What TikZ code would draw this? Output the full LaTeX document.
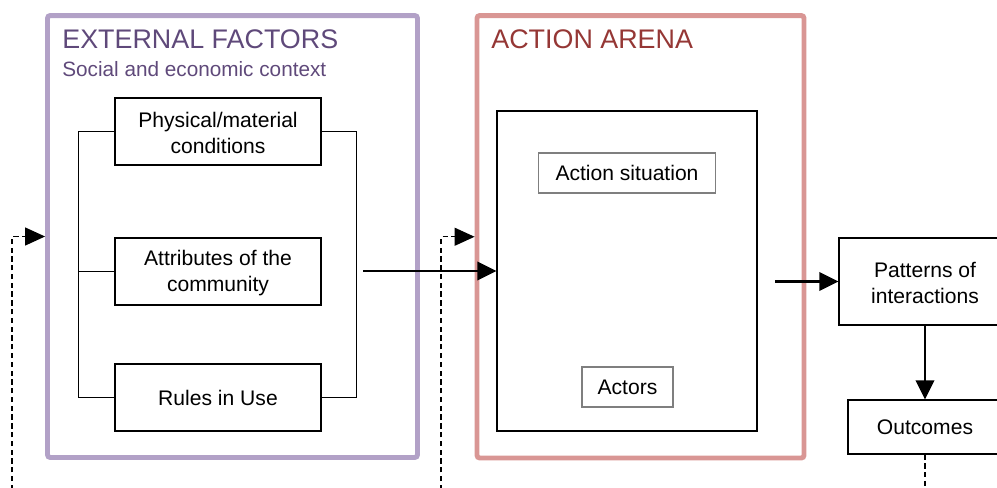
\documentclass[tikz,border=0pt]{standalone}
\usepackage{fontspec}
\setmainfont{Liberation Sans}
\usetikzlibrary{arrows.meta}
\definecolor{extline}{HTML}{B2A1C7}
\definecolor{exttext}{HTML}{5F497A}
\definecolor{arenaline}{HTML}{D99694}
\definecolor{arenatext}{HTML}{953735}
\definecolor{greyline}{HTML}{7F7F7F}

\begin{document}
\begin{tikzpicture}[x=0.02cm, y=-0.02cm,
  every node/.style={font=\fontsize{12}{14.9}\selectfont, inner sep=0pt, align=center},
  frame/.style={draw, line width=2.8pt, rounded corners=1.5pt},
  factor/.style={draw, line width=0.7pt, minimum width=4.12cm, minimum height=1.34cm},
  inbox/.style={draw=greyline, line width=0.7pt, minimum height=0.8cm},
  outbox/.style={draw, line width=0.7pt},
  flow/.style={line width=1.2pt, -{Triangle[length=0.38cm, width=0.37cm]}},
  fback/.style={line width=0.7pt, dash pattern=on 3pt off 2pt, -{Triangle[length=0.4cm, width=0.36cm]}}]
        \useasboundingbox (0,0) rectangle (997,487);
        \clip (0,0) rectangle (997,487);
        \node [frame, draw=extline, minimum width=7.4cm, minimum height=8.84cm] (ext) at (232.5,236.5) {};
        \node [frame, draw=arenaline, minimum width=6.54cm, minimum height=8.85cm] (arena) at (640.5,236.75) {};
        \node [anchor=base west, text=exttext, font=\fontsize{15.3}{18}\selectfont] (exttitle) at (62,48) {EXTERNAL FACTORS};
        \node [anchor=base west, text=exttext, font=\fontsize{11.8}{14}\selectfont] (extsub) at (62,76) {Social and economic context};
        \node [anchor=base west, text=arenatext, font=\fontsize{15.3}{18}\selectfont] (arenatitle) at (491,48) {ACTION ARENA};
        \node [factor] (phys) at (218,131.5) {\strut Physical/material\\conditions};
        \node [factor] (attr) at (218,271.5) {\strut Attributes of the\\community};
        \node [factor] (rules) at (218,397.5) {Rules in Use};
        \draw [line width=0.7pt] (phys.west) -- ++(-36,0) coordinate (lt) |- (rules.west);
        \draw [line width=0.7pt] (attr.west) -- (attr.west -| lt);
        \draw [line width=0.7pt] (phys.east) -- ++(35,0) |- (rules.east);
        \node [outbox, minimum width=5.2cm, minimum height=6.4cm] (inner) at (627,271) {};
        \node [inbox, minimum width=3.54cm] (situation) at (627,173) {Action situation};
        \node [inbox, minimum width=1.82cm] (actors) at (627.5,387) {Actors};
        \node [outbox, minimum width=3.44cm, minimum height=1.74cm] (patterns) at (925,281.5) {\strut Patterns of\\interactions};
        \node [outbox, minimum width=3.08cm, minimum height=1.08cm] (outcomes) at (925,427) {Outcomes};
        \coordinate (extout) at (363,271);
        \coordinate (arenaout) at (775,281.5);
        \coordinate (fbext) at (12,490);
        \coordinate (fbarena) at (441,490);
        \coordinate (fbout) at (925,490);
        \draw [flow] (extout) -- (inner.west);
        \draw [flow] (arenaout) -- (patterns.west);
        \draw [flow] (patterns.south) -- (outcomes.north);
        \draw [fback] (fbext) |- (ext.west);
        \draw [fback] (fbarena) |- (arena.west);
        \draw [line width=0.7pt, dash pattern=on 3pt off 2pt] (outcomes.south) -- (fbout);
\end{tikzpicture}
\end{document}
